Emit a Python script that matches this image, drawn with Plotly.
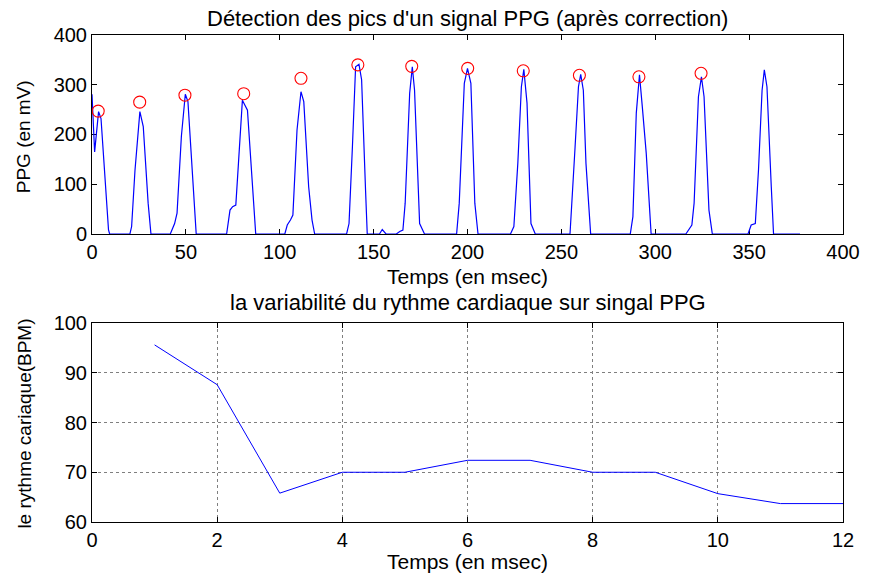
import plotly.graph_objects as go
from plotly.subplots import make_subplots

# PPG signal after correction (time in msec, amplitude in mV), vertex by vertex
ppg_t = [0, 1.4, 3.5, 4.8, 8.8, 9.4,
         20.2, 21.1, 22.9, 25.5, 27.3, 29.9, 31.4,
         41.7, 44.0, 45.3, 47.6, 49.7, 51.1, 53.4, 54.6, 55.5,
         71.7, 73.5, 74.9, 76.6, 78.0, 80.1, 82.8, 84.6, 87.2,
         102.7, 104.0, 105.7, 107.0, 109.2, 111.3, 112.8, 115.4, 117.2, 118.6,
         135.6, 136.9, 138.7, 140.4, 142.2, 143.6, 145.7, 146.6,
         153.1, 154.6, 156.6,
         162.1, 163.9, 165.6, 166.8, 169.2, 170.6, 171.8, 174.5, 177.1,
         194.2, 195.6, 198.3, 200.0, 201.8, 203.9, 205.6,
         222.9, 224.7, 226.8, 228.7, 230.0, 231.7, 233.8, 236.1,
         254.6, 257.3, 259.1, 260.3, 261.7, 263.1, 265.6,
         286.7, 288.1, 289.9, 291.6, 293.1, 295.2, 297.8,
         316.3, 319.5, 320.7, 323.0, 324.6, 326.0, 328.6, 330.4,
         349.4, 351.1, 353.3, 355.0, 356.9, 358.1, 359.5, 361.8, 363.0,
         377.1]
ppg_v = [281, 165, 246, 232, 8, 0,
         0, 15, 128, 246, 216, 62, 0,
         0, 21, 42, 196, 281, 266, 122, 35, 0,
         0, 48, 55, 58, 142, 269, 249, 142, 0,
         0, 18, 28, 38, 209, 286, 266, 95, 28, 0,
         0, 21, 175, 336, 341, 310, 88, 0,
         0, 9, 0,
         0, 5, 8, 62, 283, 336, 289, 21, 0,
         0, 62, 303, 333, 303, 62, 0,
         0, 15, 142, 296, 331, 263, 21, 0,
         0, 175, 296, 321, 289, 142, 0,
         0, 35, 243, 320, 256, 162, 0,
         0, 18, 62, 276, 316, 276, 48, 0,
         0, 18, 21, 129, 289, 330, 296, 95, 0,
         0]

# Detected peaks (after correction)
peak_t = [3.3, 25.4, 49.5, 80.8, 111.3, 141.6, 170.3, 200.1, 229.7, 259.6, 291.3, 324.4]
peak_v = [247, 265, 279, 282, 313, 340, 337, 333, 328, 319, 316, 323]

# Heart rate per beat
hr_t = [1, 2, 3, 4, 5, 6, 7, 8, 9, 10, 11, 12]
hr_bpm = [95.6, 87.6, 65.8, 70.0, 70.0, 72.4, 72.4, 70.0, 70.0, 65.7, 63.7, 63.7]

FONT = "Liberation Sans, Arial, sans-serif"

fig = make_subplots(rows=2, cols=1, vertical_spacing=0.0)

fig.add_trace(go.Scatter(x=ppg_t, y=ppg_v, mode="lines",
                         line=dict(color="#0000ff", width=1.2),
                         showlegend=False), row=1, col=1)
fig.add_trace(go.Scatter(x=peak_t, y=peak_v, mode="markers",
                         marker=dict(symbol="circle-open", size=12,
                                     color="#ff0000", line=dict(width=1.1)),
                         showlegend=False), row=1, col=1)
fig.add_trace(go.Scatter(x=hr_t, y=hr_bpm, mode="lines",
                         line=dict(color="#0000ff", width=1),
                         showlegend=False), row=2, col=1)

axis_common = dict(showline=True, linecolor="black", linewidth=1,
                   mirror="ticks", ticks="inside", ticklen=5,
                   tickcolor="black", zeroline=False,
                   tickfont=dict(family=FONT, size=20, color="black"))

fig.update_xaxes(axis_common)
fig.update_yaxes(axis_common)

fig.update_xaxes(range=[0, 400], dtick=50, showgrid=False,
                 domain=[0, 1], layer="below traces", row=1, col=1)
fig.update_yaxes(range=[0, 400], dtick=100, showgrid=False,
                 domain=[0.5914, 1], layer="below traces", row=1, col=1)
fig.update_xaxes(range=[0, 12], dtick=2, showgrid=True,
                 gridcolor="#7f7f7f", griddash="dot", gridwidth=1,
                 row=2, col=1)
fig.update_yaxes(range=[60, 100], dtick=10, showgrid=True,
                 gridcolor="#7f7f7f", griddash="dot", gridwidth=1,
                 domain=[0, 0.4086], row=2, col=1)

def label(text, x, y, size, angle=0):
    fig.add_annotation(text=text, x=x, y=y, xref="paper", yref="paper",
                       xanchor="center", yanchor="middle", showarrow=False,
                       textangle=angle,
                       font=dict(family=FONT, size=size, color="black"))

label("Détection des pics d'un signal PPG (après correction)", 0.5, 1.0349, 22)
label("Temps (en msec)", 0.5, 0.505, 21)
label("PPG (en mV)", -0.0911, 0.7912, 19, -90)
label("la variabilité du rythme cardiaque sur singal PPG", 0.5, 0.4497, 22)
label("Temps (en msec)", 0.5, -0.0821, 21)
label("le rythme cariaque(BPM)", -0.0911, 0.2012, 19, -90)

fig.update_layout(width=872, height=581,
                  margin=dict(l=92, r=23, t=35, b=59),
                  paper_bgcolor="white", plot_bgcolor="white",
                  font=dict(family=FONT, color="black"))

fig.write_html("out.html")
